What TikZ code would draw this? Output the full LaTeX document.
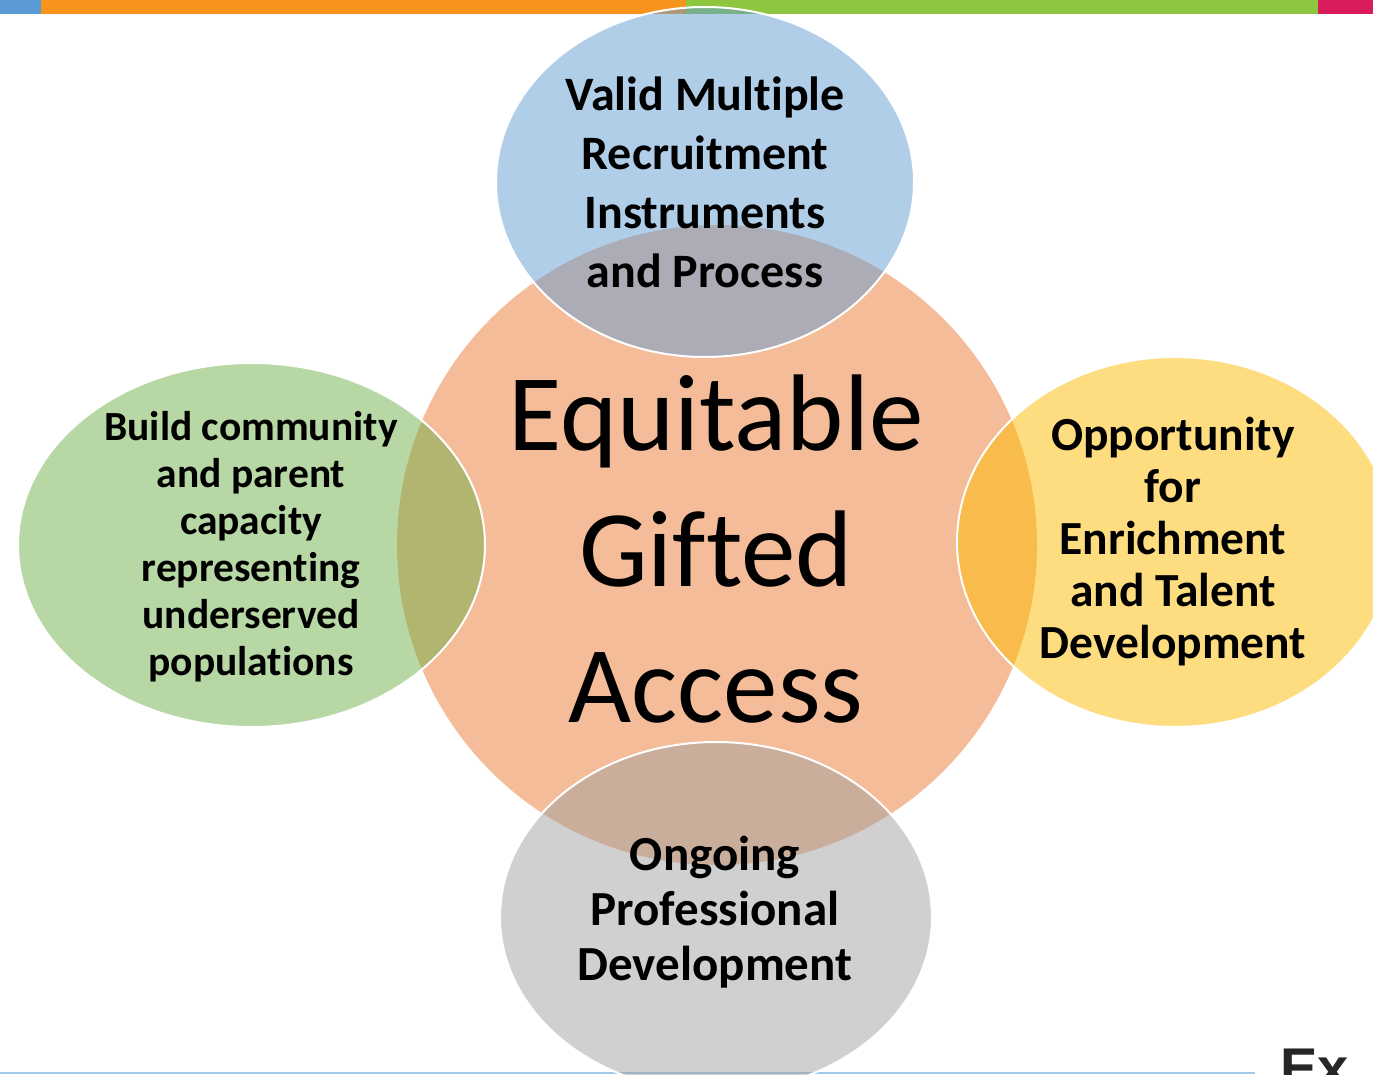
\documentclass[tikz,border=0pt]{standalone}
\usepackage{fontspec}
\setmainfont{Carlito}[Ligatures={NoCommon}]
\newfontfamily\logofont{Liberation Sans}
\usetikzlibrary{shapes.geometric}
\definecolor{cOrange}{RGB}{244,188,152}
\definecolor{cBlue}{RGB}{100,157,211}
\definecolor{cGreen}{RGB}{111,175,73}
\definecolor{cYellow}{RGB}{253,187,1}
\definecolor{cGrey}{RGB}{161,161,161}
\definecolor{barBlue}{RGB}{91,155,213}
\definecolor{barOrange}{RGB}{247,148,29}
\definecolor{barGreen}{RGB}{141,198,63}
\definecolor{barRed}{RGB}{218,28,92}
\definecolor{lineBlue}{RGB}{160,200,232}
\definecolor{logoGrey}{RGB}{38,38,38}
\tikzset{
  sat/.style={ellipse, draw=white, line width=2pt, inner sep=0pt, outer sep=0pt, fill opacity=0.5, draw opacity=1},
  sattext/.style={align=center, font=\bfseries},
}
\begin{document}
\begin{tikzpicture}[x=1pt,y=-1pt]
\useasboundingbox (0,0) rectangle (1373,1075);
\clip (0,0) rectangle (1373,1075);
% top bar
\fill[barBlue] (0,0) rectangle (41,14);
\fill[barOrange] (41,0) rectangle (686,14);
\fill[barGreen] (686,0) rectangle (1318,14);
\fill[barRed] (1318,0) rectangle (1373,14);
% bottom line
\draw[lineBlue, line width=2pt] (0,1073) -- (1255,1073);
% centre circle
\node[circle, fill=cOrange, inner sep=0pt, minimum size=640pt] (core) at (717,545) {};
\node[font=\fontsize{109}{136}\selectfont, align=center] (coretext) at (716,549) {Equitable\\Gifted\\Access};
% satellites
\node[sat, fill=cBlue, minimum width=418pt, minimum height=350pt] (top) at (705,182) {};
\node[sat, fill=cGreen, minimum width=467pt, minimum height=364pt] (left) at (251.5,545) {};
\node[sat, fill=cYellow, minimum width=436pt, minimum height=370pt] (right) at (1175,542) {};
\node[sat, fill=cGrey, minimum width=432pt, minimum height=350pt] (bottom) at (716,917) {};
% satellite texts
\node[sattext, font=\bfseries\fontsize{48}{59}\selectfont] (toptext) at (top.center) {Valid Multiple\\Recruitment\\Instruments\\and Process};
\node[sattext, font=\bfseries\fontsize{41.5}{47}\selectfont] (lefttext) at (251,547) {Build community\\and parent\\capacity\\representing\\underserved\\populations};
\node[sattext, font=\bfseries\fontsize{47.5}{52}\selectfont] (righttext) at (1173,542) {Opportunity\\for\\Enrichment\\and Talent\\Development};
\node[sattext, font=\bfseries\fontsize{49}{55}\selectfont] (bottomtext) at (715,912) {Ongoing\\Professional\\Development};
% logo fragment
\node[anchor=base west, inner sep=0pt, text=logoGrey, font=\logofont\bfseries\fontsize{56}{56}\selectfont] (logo) at (1280,1087) {Ex};
\end{tikzpicture}
\end{document}
